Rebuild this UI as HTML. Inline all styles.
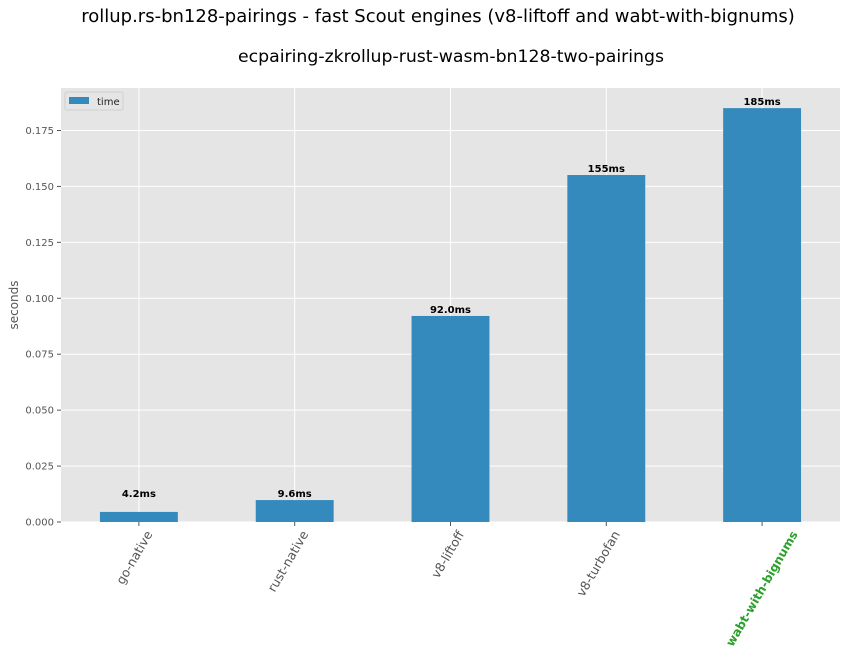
<!DOCTYPE html>
<html><head><meta charset="utf-8"><style>
body{margin:0;background:#fff;width:848px;height:656px;overflow:hidden;font-family:"DejaVu Sans","Liberation Sans",sans-serif}
svg text{font-family:"DejaVu Sans","Liberation Sans",sans-serif}
</style></head><body>
<svg id="c" width="848" height="656" xmlns="http://www.w3.org/2000/svg">
<text x="438" y="22" text-anchor="middle" font-size="18" fill="#000">rollup.rs-bn128-pairings - fast Scout engines (v8-liftoff and wabt-with-bignums)</text>
<text x="451" y="62" text-anchor="middle" font-size="17.3" fill="#000">ecpairing-zkrollup-rust-wasm-bn128-two-pairings</text>
<rect x="61" y="88" width="779" height="434" fill="#e5e5e5"/>
<g id="grid"></g><g id="bars"></g><g id="axes"></g>
<text transform="translate(18,305) rotate(-90)" text-anchor="middle" font-size="12" fill="#555">seconds</text>
<g>
<rect x="65" y="92" width="58" height="18" fill="#e5e5e5" stroke="#d0d0d0" rx="2"/>
<rect x="69" y="97" width="20" height="7" fill="#348abd"/>
<text x="97" y="105" font-size="10" fill="#222">time</text>
</g>
</svg>
<script>
const categories=["go-native","rust-native","v8-liftoff","v8-turbofan","wabt-with-bignums"];
const values=[0.0045,0.0098,0.0921,0.1551,0.185];
const labels=["4.2ms","9.6ms","92.0ms","155ms","185ms"];
const yTicks=[0,0.025,0.05,0.075,0.1,0.125,0.15,0.175];
const yTickLabels=["0.000","0.025","0.050","0.075","0.100","0.125","0.150","0.175"];
const NS="http://www.w3.org/2000/svg";
const L=61,R=840,T=88,B=522,pxPer=(522-130.5)/0.175;
const y=v=>B-v*pxPer;
const step=(R-L)/categories.length;
const x=i=>L+step*(i+0.5);
function mk(t,a,p){const e=document.createElementNS(NS,t);for(const k in a)e.setAttribute(k,a[k]);p.appendChild(e);return e;}
const g=document.getElementById('grid'),bg=document.getElementById('bars'),ax=document.getElementById('axes');
yTicks.forEach((v,i)=>{
 const l=mk('line',{x1:L,x2:R,y1:y(v),y2:y(v),stroke:'#fff','stroke-width':1},g);
 
 
 mk('line',{x1:L-4,x2:L,y1:y(v),y2:y(v),stroke:'#555'},ax);
 const t=mk('text',{x:L-7,y:y(v)+3.5,'text-anchor':'end','font-size':10,fill:'#555'},ax);
 t.textContent=yTickLabels[i];
 
 
});
categories.forEach((c,i)=>{
 const l=mk('line',{x1:x(i),x2:x(i),y1:T,y2:B,stroke:'#fff','stroke-width':1},g);
 
 
 const w=step*0.5;
 const r=mk('rect',{x:x(i)-w/2,y:y(values[i]),width:w,height:B-y(values[i]),fill:'#348abd'},bg);
 
 
 const lt=mk('text',{x:x(i),y:Math.min(y(values[i])-3,497),'text-anchor':'middle','font-size':10,'font-weight':'bold',fill:'#000'},bg);
 lt.textContent=labels[i];
 
 
 mk('line',{x1:x(i),x2:x(i),y1:B,y2:B+4,stroke:'#555'},ax);
 const last=i===categories.length-1;
 const t=mk('text',{transform:`translate(${x(i)+(last?36:14)},${B+12}) rotate(-60)`,'text-anchor':'end','font-size':last?12:12.5,fill:last?'#2ca02c':'#555','font-weight':last?'bold':'normal'},ax);
 t.textContent=c;
 
 
});
</script>
</body></html>
